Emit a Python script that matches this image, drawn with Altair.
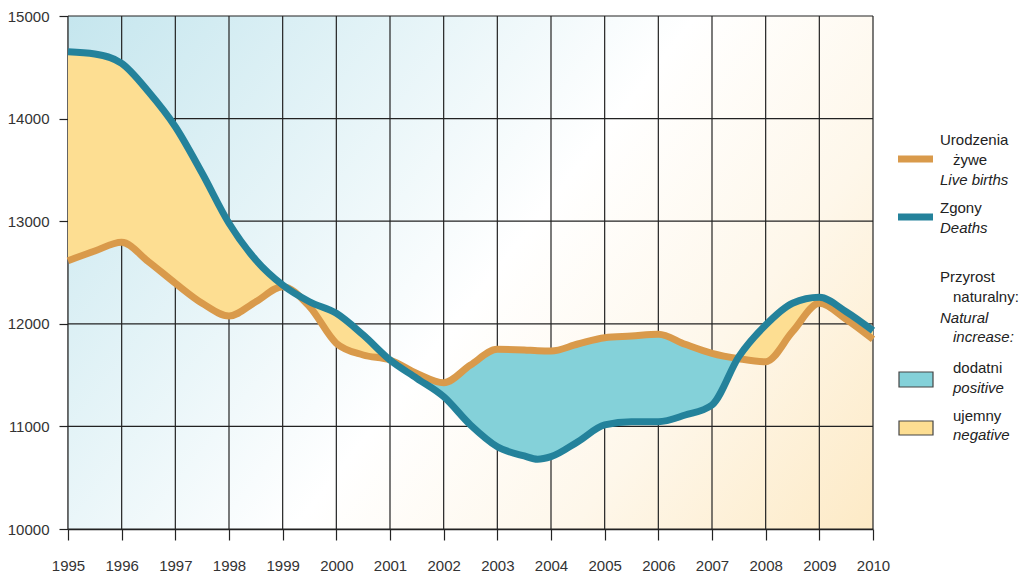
import altair as alt
import pandas as pd

# ---- data ----
years = [1995, 1995.5, 1996, 1996.5, 1997, 1997.5, 1998, 1998.5, 1999, 1999.5,
         2000, 2000.5, 2001, 2001.5, 2002, 2002.5, 2003, 2003.5, 2003.75, 2004,
         2004.5, 2005, 2005.5, 2006, 2006.5, 2007, 2007.5, 2008, 2008.5, 2009,
         2009.5, 2010]
births = [12615, 12710, 12794, 12605, 12395, 12200, 12076, 12215, 12362, 12167,
          11810, 11696, 11647, 11517, 11426, 11598, 11751, 11745, 11738, 11735,
          11803, 11865, 11881, 11898, 11800, 11712, 11660, 11630, 11923, 12200,
          12044, 11849]
deaths = [14652, 14630, 14539, 14262, 13921, 13467, 12980, 12622, 12378, 12215,
          12102, 11891, 11647, 11469, 11290, 11014, 10802, 10712, 10680, 10705,
          10851, 11014, 11046, 11046, 11111, 11209, 11680, 11988, 12200, 12258,
          12118, 11933]
x_ticks = list(range(1995, 2011))
y_ticks = [10000, 11000, 12000, 13000, 14000, 15000]

df = pd.DataFrame({"year": years, "births": births, "deaths": deaths})

W, H = 805, 513
FONT = "Liberation Sans"
GRID = "#222222"
ORANGE = "#D99A4B"
TEAL = "#24829B"
POS = "#84D1D9"
NEG = "#FDDE92"

xs = alt.Scale(domain=[1995, 2010], nice=False, zero=False)
ys = alt.Scale(domain=[10000, 15000], nice=False, zero=False)
x_axis = alt.Axis(values=x_ticks, format="d", grid=False, tickSize=11, tickColor=GRID,
                  tickWidth=1.2, domainColor=GRID, domainWidth=1.5, labelPadding=18,
                  title=None, labelFlush=False)
y_axis = alt.Axis(values=y_ticks, format="d", grid=False, tickSize=9, tickColor=GRID,
                  tickWidth=1.2, domainColor=GRID, domainWidth=1.5, labelPadding=10,
                  title=None)


def X(field):
    return alt.X(field, type="quantitative", scale=xs, axis=x_axis)


def Y(field):
    return alt.Y(field, type="quantitative", scale=ys, axis=y_axis)


one = pd.DataFrame({"a": [0]})

bg = alt.Chart(one).mark_rect(
    color=alt.Gradient(
        gradient="linear",
        stops=[alt.GradientStop(color="#C5E6EE", offset=0),
               alt.GradientStop(color="#FFFFFF", offset=0.52),
               alt.GradientStop(color="#FEF7EA", offset=0.75),
               alt.GradientStop(color="#FDEAC6", offset=1)],
        x1=0, y1=0, x2=1.2, y2=0.6)
).encode(x=alt.value(0), x2=alt.value(W), y=alt.value(0), y2=alt.value(H))

vgrid = alt.Chart(pd.DataFrame({"gx": x_ticks})).mark_rule(
    color=GRID, strokeWidth=1.2).encode(x=X("gx"))
hgrid = alt.Chart(pd.DataFrame({"gy": y_ticks})).mark_rule(
    color=GRID, strokeWidth=1.2).encode(y=Y("gy"))

base = alt.Chart(df).transform_calculate(top="max(datum.births, datum.deaths)")
pos_area = base.mark_area(interpolate="monotone", color=POS).encode(
    x=X("year"), y=Y("top"), y2="deaths:Q")
neg_area = base.mark_area(interpolate="monotone", color=NEG).encode(
    x=X("year"), y=Y("top"), y2="births:Q")
births_line = alt.Chart(df).mark_line(
    interpolate="monotone", color=ORANGE, strokeWidth=7, strokeJoin="round"
).encode(x=X("year"), y=Y("births"))
deaths_line = alt.Chart(df).mark_line(
    interpolate="monotone", color=TEAL, strokeWidth=7, strokeJoin="round"
).encode(x=X("year"), y=Y("deaths"))


def ltext(label, x, y, italic=False):
    return alt.Chart(one).mark_text(
        text=label, align="left", baseline="middle", font=FONT, fontSize=15,
        color="#222222", fontStyle="italic" if italic else "normal"
    ).encode(x=alt.value(x), y=alt.value(y))


legend = [
    alt.Chart(one).mark_rule(color=ORANGE, strokeWidth=7).encode(
        x=alt.value(830), x2=alt.value(865), y=alt.value(143)),
    alt.Chart(one).mark_rule(color=TEAL, strokeWidth=7).encode(
        x=alt.value(830), x2=alt.value(865), y=alt.value(201)),
    alt.Chart(one).mark_rect(color=POS, stroke="#444444", strokeWidth=1.2).encode(
        x=alt.value(831), x2=alt.value(865), y=alt.value(356), y2=alt.value(371)),
    alt.Chart(one).mark_rect(color=NEG, stroke="#444444", strokeWidth=1.2).encode(
        x=alt.value(831), x2=alt.value(865), y=alt.value(405), y2=alt.value(419)),
    ltext("Urodzenia", 872, 124),
    ltext("żywe", 885, 144),
    ltext("Live births", 872, 164, True),
    ltext("Zgony", 872, 192),
    ltext("Deaths", 872, 212, True),
    ltext("Przyrost", 872, 261),
    ltext("naturalny:", 885, 281),
    ltext("Natural", 872, 302, True),
    ltext("increase:", 885, 321, True),
    ltext("dodatni", 885, 352),
    ltext("positive", 885, 372, True),
    ltext("ujemny", 885, 400),
    ltext("negative", 885, 419, True),
]

chart = alt.layer(
    bg, vgrid, hgrid, neg_area, pos_area, births_line, deaths_line, *legend
).properties(
    width=W, height=H,
    autosize=alt.AutoSizeParams(type="none"),
    padding={"left": 60, "top": 8, "right": 147, "bottom": 47},
).configure_view(stroke=None).configure_axis(
    labelFont=FONT, labelFontSize=15, labelColor="#333333"
)

chart.save("out.html", embed_options={"renderer": "svg", "actions": False})
